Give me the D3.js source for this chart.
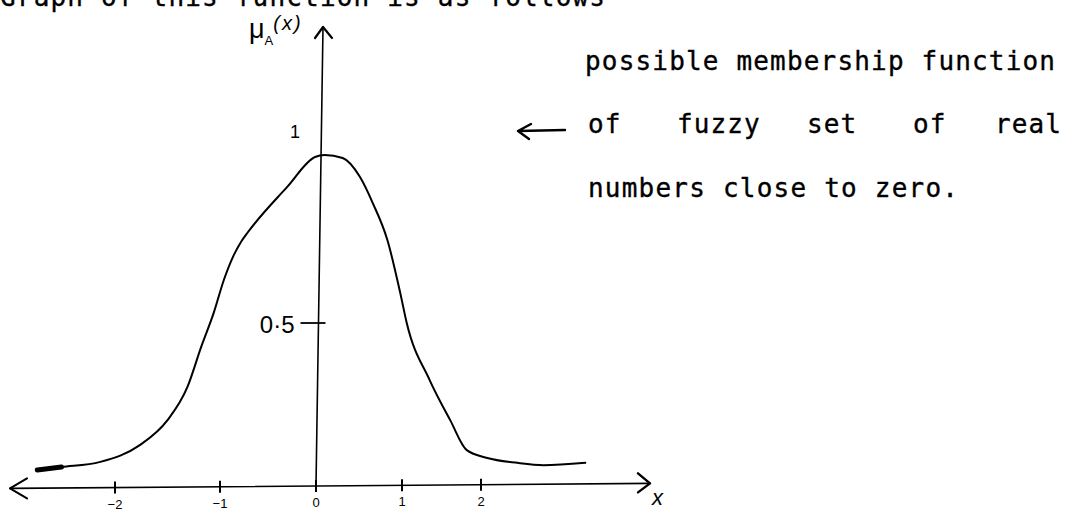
<!DOCTYPE html>
<html>
<head>
<meta charset="utf-8">
<script src="https://cdn.jsdelivr.net/npm/d3@7/dist/d3.min.js"></script>
<style>
  html, body { margin: 0; padding: 0; background: #fff; }
  svg { display: block; }
  .mono { font-family: "DejaVu Sans Mono", monospace; font-size: 26px; fill: #000; stroke: #000; stroke-width: 0.35; }
  .hand { font-family: "Liberation Sans", sans-serif; fill: #000; }
</style>
</head>
<body>
<div id="chart"></div>
<script>
// Membership function of the fuzzy set "real numbers close to zero"

// Data
const xTicks = [-2, -1, 0, 1, 2];
const yTicks = [0.5];
const yTopLabel = 1;
// curve, x then mu_A(x)
const curveX = [-2.74, -2.51, -2.14, -1.76, -1.50, -1.31, -1.18, -1.06, -0.96, -0.86, -0.78, -0.71, -0.30, -0.01,
                0.10, 0.31, 0.51, 0.66, 0.83, 0.98, 1.06, 1.35, 1.61, 1.82, 2.08, 2.46, 2.79, 3.32];
const curveY = [0.049, 0.058, 0.074, 0.126, 0.202, 0.304, 0.426, 0.530, 0.628, 0.700, 0.742, 0.770, 0.905, 0.994,
                1.000, 0.991, 0.935, 0.857, 0.747, 0.589, 0.500, 0.325, 0.202, 0.110, 0.086, 0.071, 0.064, 0.071];

const headerText = "Graph of this function is as follows";
const noteLine1 = "possible membership function";
const noteLine2 = ["of", "fuzzy", "set", "of", "real"];
const noteLine3 = "numbers close to zero.";

// Layout
const W = 1066, H = 511;
const axisLeft = 10, axisRight = 650, axisTop = 27;
const xTilt = 5;   // hand drawn x axis drops this much from right to left
const yTilt = 7;   // hand drawn y axis leans right by this much at the top

const svg = d3.select('#chart').append('svg')
  .attr('width', W)
  .attr('height', H);

svg.append('rect').attr('width', W).attr('height', H).attr('fill', '#fff');

// Scales follow the uneven hand spacing of the ticks
const x = d3.scaleLinear().domain(xTicks).range([115, 220, 316, 402, 481]);
const y = d3.scaleLinear().domain([0, 0.5, 1]).range([486, 323, 155]);

const x0 = x(0), y0 = y(0);
const axisYAt = px => y0 + xTilt * (x0 - px) / (axisRight - axisLeft);
const axisXAt = py => x0 + yTilt * (y0 - py) / (y0 - axisTop);

const ink = svg.append('g').attr('stroke', '#000').attr('fill', 'none')
  .attr('stroke-linecap', 'round').attr('stroke-linejoin', 'round');

// x axis with arrows at both ends
ink.append('line')
  .attr('x1', axisLeft).attr('y1', axisYAt(axisLeft))
  .attr('x2', axisRight).attr('y2', axisYAt(axisRight))
  .attr('stroke-width', 1.6);
ink.append('path')
  .attr('d', `M${axisLeft + 17},${axisYAt(axisLeft) - 10} L${axisLeft},${axisYAt(axisLeft)} L${axisLeft + 17},${axisYAt(axisLeft) + 10}`)
  .attr('stroke-width', 2);
ink.append('path')
  .attr('d', `M${axisRight - 12},${axisYAt(axisRight) - 10} L${axisRight},${axisYAt(axisRight)} L${axisRight - 12},${axisYAt(axisRight) + 9}`)
  .attr('stroke-width', 2.4);

// y axis with arrow at the top
ink.append('line')
  .attr('x1', x0).attr('y1', y0)
  .attr('x2', axisXAt(axisTop)).attr('y2', axisTop)
  .attr('stroke-width', 1.6);
ink.append('path')
  .attr('d', `M${axisXAt(axisTop) - 8},${axisTop + 11} L${axisXAt(axisTop)},${axisTop} L${axisXAt(axisTop) + 9},${axisTop + 11}`)
  .attr('stroke-width', 2.2);

// x ticks and labels through d3.axisBottom
const xAxis = svg.append('g')
  .attr('transform', `translate(0,${y0})`)
  .call(d3.axisBottom(x).tickValues(xTicks).tickSize(13).tickFormat(d3.format('d')));
xAxis.select('.domain').remove();
xAxis.selectAll('.tick')
  .attr('transform', d => `translate(${x(d)},${axisYAt(x(d)) - y0})`);
xAxis.selectAll('.tick line')
  .attr('y1', -6).attr('y2', 6)
  .attr('stroke', '#000').attr('stroke-width', 2);
xAxis.selectAll('.tick text')
  .attr('class', 'hand')
  .attr('y', 21).attr('dy', 0)
  .attr('font-size', 13)
  .attr('fill', '#000');

// y tick
const yAxis = svg.append('g')
  .call(d3.axisLeft(y).tickValues(yTicks).tickSize(0).tickFormat(() => ''));
yAxis.select('.domain').remove();
yAxis.selectAll('.tick')
  .attr('transform', d => `translate(${axisXAt(y(d))},${y(d)})`);
yAxis.selectAll('.tick line')
  .attr('x1', -18).attr('x2', 7)
  .attr('stroke', '#000').attr('stroke-width', 1.8);
yAxis.selectAll('.tick text').remove();

svg.append('text').attr('class', 'hand')
  .attr('x', axisXAt(y(0.5)) - 24).attr('y', y(0.5) + 10)
  .attr('text-anchor', 'end').attr('font-size', 24)
  .text('0·5');
svg.append('text').attr('class', 'hand')
  .attr('x', x0 - 21).attr('y', y(yTopLabel) - 17)
  .attr('text-anchor', 'middle').attr('font-size', 18)
  .text('1');

// axis names
const muLabel = svg.append('text').attr('class', 'hand')
  .attr('x', 249).attr('y', 38);
muLabel.append('tspan').attr('font-size', 27).text('μ');
muLabel.append('tspan').attr('font-size', 13).attr('dy', 7).text('A');
muLabel.append('tspan').attr('font-size', 20).attr('dy', -15).attr('font-style', 'italic')
  .attr('letter-spacing', 2).text('(x)');
svg.append('text').attr('class', 'hand')
  .attr('x', axisRight + 2).attr('y', axisYAt(axisRight) + 22)
  .attr('font-size', 22).attr('font-style', 'italic')
  .text('x');

// membership curve
const pts = curveX.map((v, i) => [v, curveY[i]]);
const line = d3.line()
  .x(d => x(d[0]))
  .y(d => y(d[1]))
  .curve(d3.curveMonotoneX);
ink.append('path')
  .datum(pts)
  .attr('d', line)
  .attr('stroke-width', 2);
// heavier pen start on the left
ink.append('path')
  .datum(pts.slice(0, 2))
  .attr('d', line)
  .attr('stroke-width', 5);

// typed text (the first line runs off the top edge, as in the scan)
svg.append('text').attr('class', 'mono')
  .attr('x', 0).attr('y', 6)
  .attr('textLength', 605).attr('lengthAdjust', 'spacing')
  .text(headerText);

svg.append('text').attr('class', 'mono')
  .attr('x', 585).attr('y', 70)
  .attr('textLength', 470).attr('lengthAdjust', 'spacing')
  .text(noteLine1);

const wordX = [588, 677, 807, 913, 995];
svg.append('g').selectAll('text')
  .data(noteLine2)
  .join('text')
  .attr('class', 'mono')
  .attr('x', (d, i) => wordX[i]).attr('y', 133)
  .attr('letter-spacing', 1.1)
  .text(d => d);

svg.append('text').attr('class', 'mono')
  .attr('x', 588).attr('y', 197)
  .attr('textLength', 370).attr('lengthAdjust', 'spacing')
  .text(noteLine3);

// hand drawn pointer towards the graph
ink.append('path')
  .attr('d', 'M565,130 L518,131 M531,124 L518,131 L529,139')
  .attr('stroke-width', 2.4);
</script>
</body>
</html>
